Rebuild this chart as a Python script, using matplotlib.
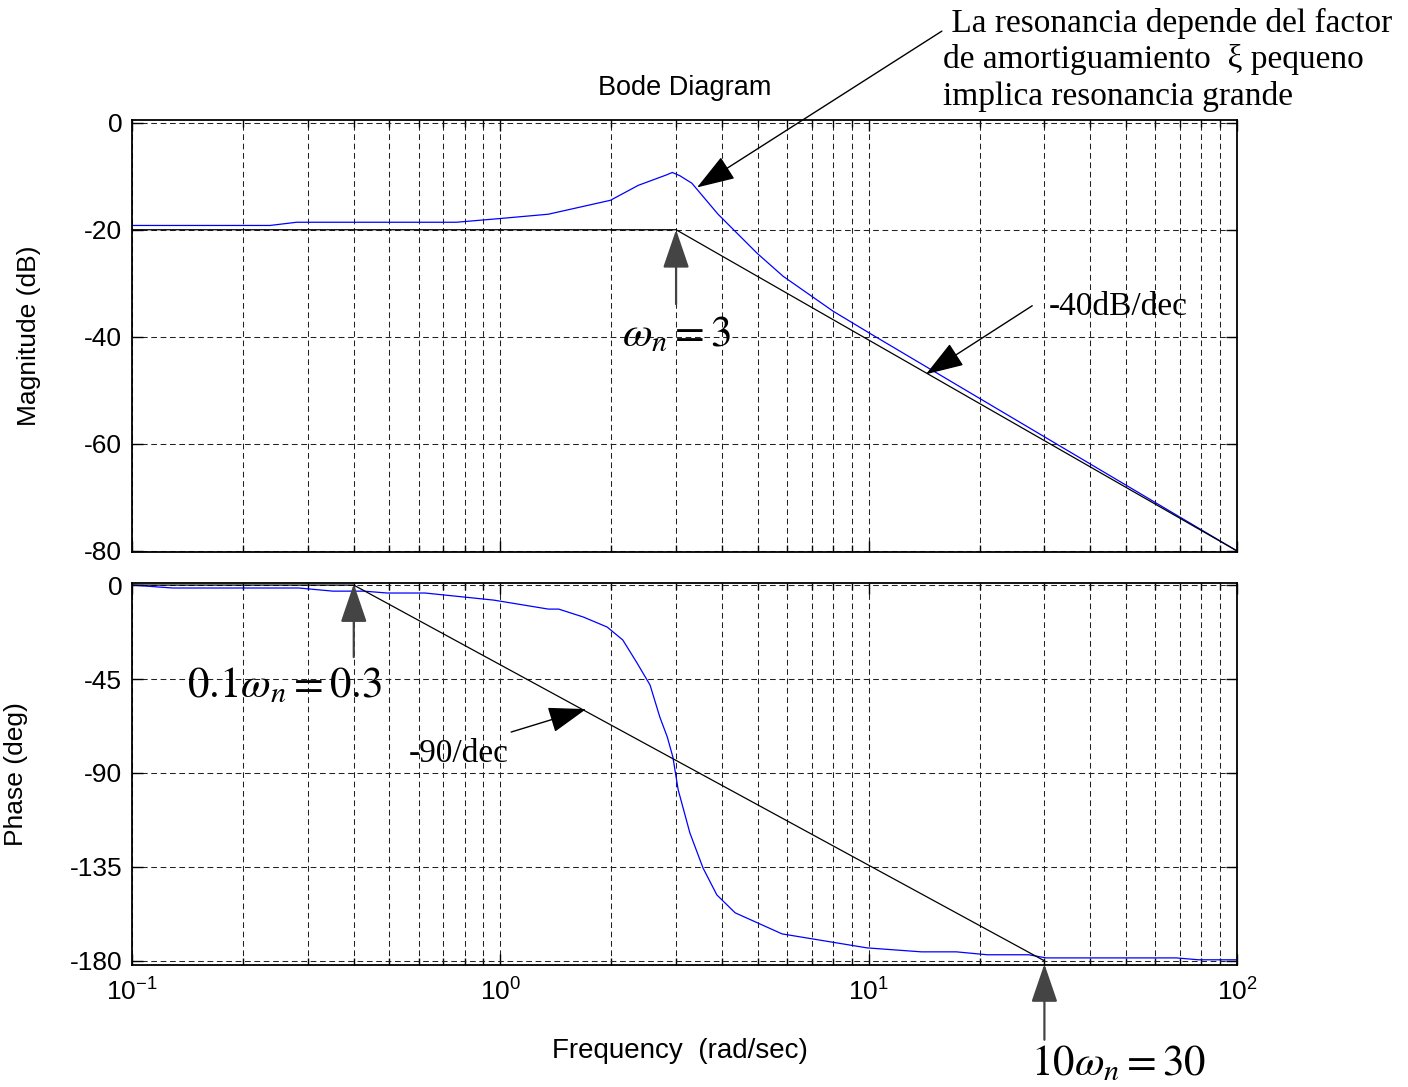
import matplotlib
matplotlib.use("Agg")
import matplotlib.pyplot as plt
from matplotlib.ticker import LogLocator, NullFormatter

plt.rcParams['font.family'] = ['Liberation Sans', 'DejaVu Sans']
plt.rcParams['axes.unicode_minus'] = False
plt.rcParams['mathtext.fontset'] = 'custom'
plt.rcParams['mathtext.rm'] = 'Liberation Sans'
plt.rcParams['mathtext.it'] = 'Liberation Sans:italic'

# magnitude response
mag_w = [0.1, 0.237, 0.28, 0.76, 1.0, 1.35, 1.99, 2.37, 2.84, 2.93, 3.07,
         3.31, 3.90, 4.98, 5.86, 8.0, 10.1, 100]
mag_db = [-19.2, -19.2, -18.6, -18.6, -17.9, -17.1, -14.5, -11.7, -9.7, -9.3,
          -9.9, -11.3, -17.1, -24.4, -28.7, -35.2, -39.4, -80]

# phase response
phase_w = [0.1, 0.129, 0.284, 0.351, 0.426, 0.493, 0.625, 0.96, 1.35, 1.44,
           1.68, 1.95, 2.15, 2.35, 2.55, 2.71, 2.84, 2.94, 3.04, 3.27, 3.55,
           3.87, 4.34, 5.82, 9.9, 13.9, 17.3, 21.0, 27.2, 30.3, 68.4, 78.6, 100]
phase_deg = [0, -1.4, -1.4, -2.9, -2.9, -3.8, -3.8, -7.2, -11.5, -11.5,
             -15.3, -20.1, -26.3, -37.3, -47.9, -63.2, -72.8, -82.3, -98.1,
             -118.7, -135.5, -148.4, -157.0, -167.1, -173.8, -175.7, -175.7,
             -177.1, -177.1, -178.6, -178.6, -179.5, -179.5]

# asymptotes
mag_asym_w = [0.1, 3, 100]
mag_asym_db = [-20, -20, -80]
phase_asym_w = [0.1, 0.4, 30]
phase_asym_deg = [0, 0, -180]

mag_ticks = [0, -20, -40, -60, -80]
phase_ticks = [0, -45, -90, -135, -180]

W, H = 1408, 1087
fig = plt.figure(figsize=(W / 100, H / 100), dpi=100)
ax1 = fig.add_axes([132 / W, 1 - 552 / H, 1105 / W, 432 / H])
ax2 = fig.add_axes([132 / W, 1 - 965 / H, 1105 / W, 382 / H])

ax1.plot(mag_w, mag_db, color='#0000ff', lw=0.9)
ax1.plot(mag_asym_w, mag_asym_db, color='k', lw=0.9)
ax2.plot(phase_w, phase_deg, color='#0000ff', lw=0.9)
ax2.plot(phase_asym_w, phase_asym_deg, color='k', lw=0.9)

for ax in (ax1, ax2):
    ax.set_xscale('log')
    ax.set_xlim(0.1, 100)
    ax.xaxis.set_major_locator(LogLocator(base=10, numticks=10))
    ax.xaxis.set_minor_locator(LogLocator(base=10, subs=range(2, 10), numticks=10))
    ax.xaxis.set_minor_formatter(NullFormatter())
    ax.grid(True, which='major', ls=(0, (5.5, 3.5)), color='#222222', lw=0.75)
    ax.grid(True, which='minor', axis='x', ls=(0, (5.5, 3.5)), color='#222222', lw=0.75)
    ax.tick_params(which='both', direction='in', top=True, right=True,
                   labelsize=19, width=1)
    ax.tick_params(axis='y', pad=7)
    ax.tick_params(axis='x', pad=10)
    ax.tick_params(which='major', length=8)
    ax.tick_params(which='minor', length=5)
    for s in ax.spines.values():
        s.set_linewidth(1.3)

ax1.set_ylim(-80.2, 0.5)
ax1.set_yticks(mag_ticks)
ax1.tick_params(labelbottom=False)
ax2.set_ylim(-182, 1)
ax2.set_yticks(phase_ticks)

ax1.set_title('Bode Diagram', fontsize=19.5, pad=18)
ax1.set_ylabel('Magnitude (dB)', fontsize=19)
ax1.yaxis.set_label_coords((41 - 132) / 1105, 0.5)
ax2.set_ylabel('Phase (deg)', fontsize=19)
ax2.yaxis.set_label_coords((28 - 132) / 1105, 0.5)
ax2.set_xlabel('Frequency  (rad/sec)', fontsize=20)
ax2.xaxis.set_label_coords((680 - 132) / 1105, (965 - 1038) / 382)

head = '-|>,head_length=24,head_width=8.2'


def arrow(ax, tip, tail, color='k', lw=1.0):
    ax.annotate('', xy=tip, xytext=tail, xycoords='data', textcoords='data',
                annotation_clip=False,
                arrowprops=dict(arrowstyle=head, mutation_scale=1, color=color,
                                lw=lw, shrinkA=0, shrinkB=0))


arrow(ax1, (3.42, -12.1), (15.8, 17.1))
arrow(ax1, (3.0, -20), (3.0, -33.9), color='#444444', lw=1.6)
arrow(ax1, (14.3, -47.0), (27.8, -34.2))
arrow(ax2, (0.4, 0.5), (0.4, -34.5), color='#444444', lw=1.6)
arrow(ax2, (1.71, -59.4), (1.07, -70.4))
arrow(ax2, (30, -181.5), (30, -217.8), color='#444444', lw=1.6)

serif = ['Liberation Serif', 'DejaVu Serif']


def ftext(x, y, s, **kw):
    fig.text(x / W, 1 - y / H, s, **kw)


ftext(943, 8, ' La resonancia depende del factor\nde amortiguamiento  \u03be pequeno\nimplica resonancia grande',
      family=serif, fontsize=24, va='top', ha='left', linespacing=1.22)
ftext(1049, 315, '-40dB/dec', family=serif, fontsize=24, va='baseline')
ftext(409, 762, '-90/dec', family=serif, fontsize=24, va='baseline')
ftext(622, 346, r'$\omega_n = 3$', fontsize=31, va='baseline', math_fontfamily='stix')
ftext(187, 697, r'$0.1\omega_n = 0.3$', fontsize=31, va='baseline', math_fontfamily='stix')
ftext(1031, 1075, r'$10\omega_n = 30$', fontsize=31, va='baseline', math_fontfamily='stix')

fig.savefig('out.png', dpi=100)
